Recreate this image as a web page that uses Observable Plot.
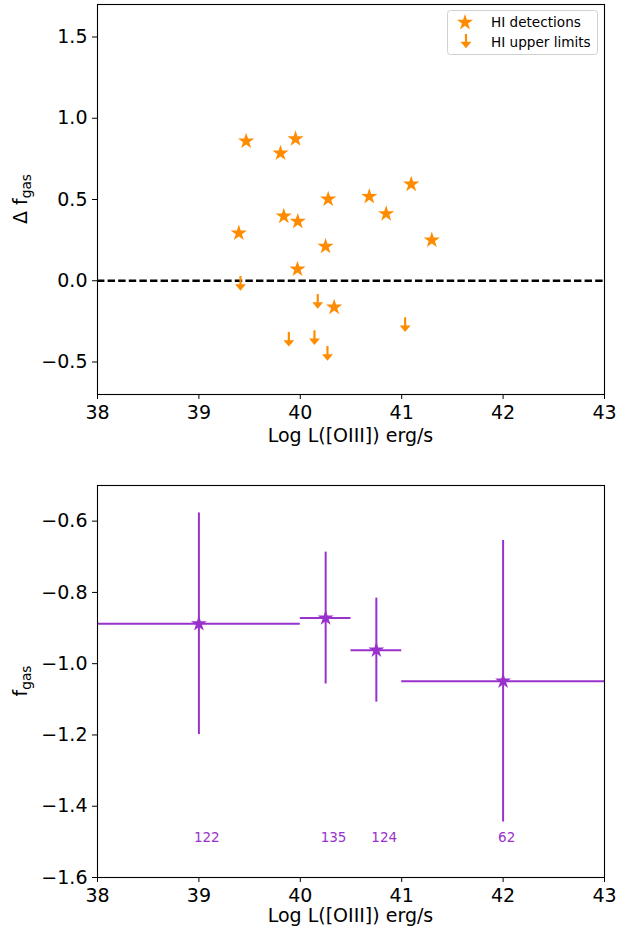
<!DOCTYPE html>
<html><head><meta charset="utf-8">
<script src="https://cdn.jsdelivr.net/npm/d3@7"></script>
<script src="https://cdn.jsdelivr.net/npm/@observablehq/plot@0.6"></script>
<style>
body{margin:0;background:#fff;font-family:"DejaVu Sans",sans-serif;}
#chart{width:632px;height:934px;}
svg{display:block}
</style></head><body><div id="chart"></div>
<script>
// ---- data ----
const detX = [39.466, 39.953, 39.805, 40.275, 40.68, 41.094, 40.847, 39.837, 39.975, 39.394, 40.249, 41.297, 39.972, 40.334];
const detY = [0.859, 0.873, 0.785, 0.502, 0.518, 0.594, 0.412, 0.397, 0.365, 0.293, 0.211, 0.250, 0.071, -0.163];
const limX = [39.41, 40.172, 39.887, 40.14, 40.268, 41.034];
const limY = [0.026, -0.085, -0.318, -0.308, -0.405, -0.228];

const binX  = [39, 40.25, 40.75, 42];
const binLo = [38, 40.0, 40.5, 41];
const binHi = [40, 40.5, 41.0, 43];
const binY  = [-0.888, -0.872, -0.962, -1.049];
const binErr = [0.311, 0.185, 0.146, 0.395];
const binN  = ["122", "135", "124", "62"];
const countLevel = -1.5;

const xTicks = [38, 39, 40, 41, 42, 43];
const topYTicks = [-0.5, 0.0, 0.5, 1.0, 1.5];
const botYTicks = [-1.6, -1.4, -1.2, -1.0, -0.8, -0.6];
const xLabel = "Log L([OIII]) erg/s";

// ---- styling ----
const ORANGE = "#ff8c00";
const PURPLE = "#9932cc";
const FS = 19;
const caretDown = {
  draw(ctx, size) {
    const h = Math.sqrt(size) * 0.9;
    ctx.moveTo(-h * 0.85, -h * 0.35);
    ctx.lineTo(h * 0.85, -h * 0.35);
    ctx.lineTo(0, h * 0.65);
    ctx.closePath();
  }
};

const det = detX.map((x, i) => ({x, y: detY[i]}));
const lim = limX.map((x, i) => ({x, y: limY[i]}));
const bins = binX.map((x, i) => ({x, lo: binLo[i], hi: binHi[i], y: binY[i],
  y1: binY[i] - binErr[i], y2: binY[i] + binErr[i], n: binN[i], ny: countLevel}));

function axes(yTicks) {
  return [
    Plot.axisX(xTicks, {tickSize: 5, tickPadding: 6, fontSize: FS, tickFormat: d => String(d), label: null}),
    Plot.axisY(yTicks, {tickSize: 5, tickPadding: 5, fontSize: FS, tickFormat: d3.format(".1f"), label: null})
  ];
}

const topChart = Plot.plot({
  width: 632, height: 465,
  marginLeft: 97, marginRight: 28, marginTop: 4, marginBottom: 71,
  style: {fontFamily: "DejaVu Sans", background: "#fff", color: "#000", overflow: "visible"},
  x: {domain: [38, 43]},
  y: {domain: [-0.7, 1.7]},
  marks: [
    ...axes(topYTicks),
    Plot.ruleY([0], {stroke: "#000", strokeWidth: 2.5, strokeDasharray: "7.4,3.2"}),
    Plot.ruleX(lim, {x: "x", y1: "y", y2: "y", insetBottom: -10, stroke: ORANGE, strokeWidth: 2.2}),
    Plot.dot(lim, {x: "x", y: "y", dy: 10, symbol: caretDown, r: 4, fill: ORANGE, stroke: "none"}),
    Plot.dot(det, {x: "x", y: "y", symbol: "star", r: 5.1, fill: ORANGE, stroke: "none"}),
    Plot.frame({stroke: "#000", strokeWidth: 1.1})
  ]
});

const bottomChart = Plot.plot({
  width: 632, height: 469,
  marginLeft: 97, marginRight: 28, marginTop: 20, marginBottom: 57,
  style: {fontFamily: "DejaVu Sans", background: "#fff", color: "#000", overflow: "visible"},
  x: {domain: [38, 43]},
  y: {domain: [-1.6, -0.5]},
  marks: [
    ...axes(botYTicks),
    Plot.ruleY(bins, {y: "y", x1: "lo", x2: "hi", stroke: PURPLE, strokeWidth: 2}),
    Plot.ruleX(bins, {x: "x", y1: "y1", y2: "y2", stroke: PURPLE, strokeWidth: 2}),
    Plot.dot(bins, {x: "x", y: "y", symbol: "star", r: 5, fill: PURPLE, stroke: "none"}),
    Plot.text(bins, {x: "x", y: "ny", text: "n", fill: PURPLE, fontSize: 13.5, textAnchor: "start", lineAnchor: "bottom", dx: -5}),
    Plot.frame({stroke: "#000", strokeWidth: 1.1})
  ]
});

const chart = document.getElementById("chart");
chart.appendChild(topChart);
chart.appendChild(bottomChart);

function addLabels(svg, yMain, ySub, yCenter, xBaseline) {
  const s = d3.select(svg);
  s.append("text").attr("x", 350.5).attr("y", xBaseline).attr("text-anchor", "middle")
    .attr("font-size", FS).attr("fill", "#000").text(xLabel);
  const t = s.append("text").attr("transform", `translate(27,${yCenter}) rotate(-90)`)
    .attr("text-anchor", "middle").attr("font-size", FS).attr("fill", "#000");
  t.append("tspan").text(yMain);
  t.append("tspan").attr("font-size", FS * 0.72).attr("dy", 4).text(ySub);
}
addLabels(topChart, "\u0394 f", "gas", 199, 442);
addLabels(bottomChart, "f", "gas", 216, 457);

// legend (top panel, upper right)
const lg = d3.select(topChart).append("g").attr("text-anchor", "start");
lg.append("rect").attr("x", 447.5).attr("y", 10.5).attr("width", 150).attr("height", 44).attr("rx", 3)
  .attr("fill", "#fff").attr("fill-opacity", 0.8).attr("stroke", "#d0d0d0");
lg.append("path").attr("transform", "translate(465,22.5)")
  .attr("d", d3.symbol(d3.symbolStar, Math.PI * 5.1 * 5.1)()).attr("fill", ORANGE);
lg.append("line").attr("x1", 466).attr("x2", 466).attr("y1", 34).attr("y2", 44)
  .attr("stroke", ORANGE).attr("stroke-width", 2.2);
lg.append("path").attr("transform", "translate(466,44)")
  .attr("d", d3.symbol(caretDown, Math.PI * 4 * 4)()).attr("fill", ORANGE);
lg.append("text").attr("x", 491).attr("y", 26.7).attr("font-size", 13.6).attr("fill", "#000").text("HI detections");
lg.append("text").attr("x", 491).attr("y", 46.7).attr("font-size", 13.6).attr("fill", "#000").text("HI upper limits");
</script></body></html>
